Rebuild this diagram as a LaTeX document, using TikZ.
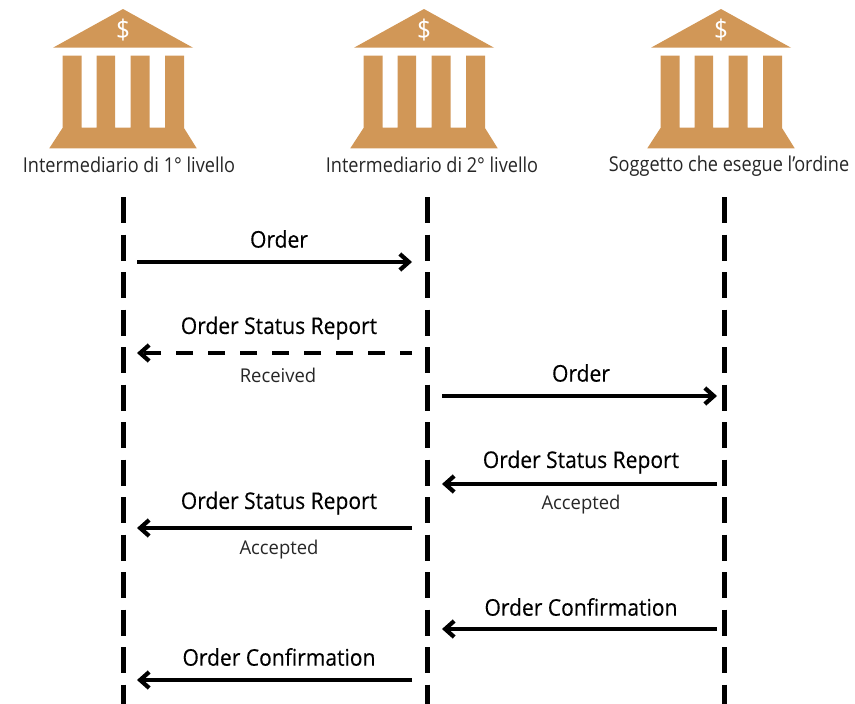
\documentclass[tikz,border=0pt]{standalone}
\usepackage{fontspec}
\setmainfont{Open Sans}
\usetikzlibrary{arrows.meta}
\definecolor{bank}{RGB}{209,151,87}
\tikzset{
  x=1pt,y=-1pt,
  bankfill/.style={fill=bank,draw=none},
  lifeline/.style={line width=5pt,dash pattern=on 26pt off 11.5pt},
  msg/.style={line width=4.2pt,-{Straight Barb[length=9pt,width=16pt,line width=4.2pt]}},
  msgdash/.style={msg,dash pattern=on 17pt off 15pt,dash phase=5pt},
  title/.style={font=\fontsize{20.5}{24}\selectfont\addfontfeature{FakeStretch=0.884},inner sep=0pt,text=black!85},
  big/.style={font=\fontsize{23}{26}\selectfont\addfontfeature{FakeStretch=0.915,FakeBold=0.3},inner sep=0pt},
  small/.style={font=\fontsize{19}{22}\selectfont\addfontfeature{FakeStretch=0.97},inner sep=0pt,text=black!85},
  pics/bankicon/.style={code={
    \fill[bankfill] (0,-119) -- (70,-80.3) -- (-70,-80.3) -- cycle;
    \fill[bankfill] (-60.5,-72.5) -- (-41.5,-72.5) -- (-41.5,-0.5) -- (-26.5,-0.5) -- (-26.5,-72.5) -- (-8,-72.5) -- (-8,-0.5) -- (7.7,-0.5) -- (7.7,-72.5) -- (26.7,-72.5) -- (26.7,-0.5) -- (42,-0.5) -- (42,-72.5) -- (61,-72.5) -- (61,0) -- (73.7,20.3) -- (-73.7,20.3) -- (-60.5,0) -- cycle;
    \node[font=\fontsize{27}{30}\selectfont\addfontfeature{FakeStretch=0.9},text=white,inner sep=0pt] at (0,-98) {\$};
  }}
}
\begin{document}
\begin{tikzpicture}
\useasboundingbox (0,0) rectangle (855,704);
\pic at (123,128) {bankicon};
\pic at (424,128) {bankicon};
\pic at (721,128) {bankicon};
\node[title] (t1) at (129,165) {Intermediario di 1° livello};
\node[title] (t2) at (432,165) {Intermediario di 2° livello};
\node[title] (t3) at (729,166) {Soggetto che esegue l’ordine};
\coordinate (la) at (123,197); \coordinate (lb) at (123,704);
\coordinate (ma) at (427,197); \coordinate (mb) at (427,704);
\coordinate (ra) at (724,197); \coordinate (rb) at (724,704);
\draw[lifeline] (la) -- (lb);
\draw[lifeline] (ma) -- (mb);
\draw[lifeline] (ra) -- (rb);
\foreach \n/\y in {a/262,b/353,f/528,h/680}{
  \coordinate (L\n) at (137,\y); \coordinate (R\n) at (412,\y);
}
\foreach \n/\y in {c/396,d/484,g/629}{
  \coordinate (L\n) at (442,\y); \coordinate (R\n) at (717,\y);
}
\draw[msg] (La) -- (Ra);
\draw[msgdash] (Rb) -- (Lb);
\draw[msg] (Lc) -- (Rc);
\draw[msg] (Rd) -- (Ld);
\draw[msg] (Rf) -- (Lf);
\draw[msg] (Rg) -- (Lg);
\draw[msg] (Rh) -- (Lh);
\node[big] (o1) at (279,239) {Order};
\node[big] (s1) at (279,328) {Order Status Report};
\node[small] (r1) at (278,375.5) {Received};
\node[big] (o2) at (581,373) {Order};
\node[big] (s2) at (581,462) {Order Status Report};
\node[small] (a2) at (581,505) {Accepted};
\node[big] (s3) at (279,503) {Order Status Report};
\node[small] (a3) at (279,550) {Accepted};
\node[big] (c2) at (581,607) {Order Confirmation};
\node[big] (c1) at (279,657) {Order Confirmation};
\end{tikzpicture}
\end{document}
